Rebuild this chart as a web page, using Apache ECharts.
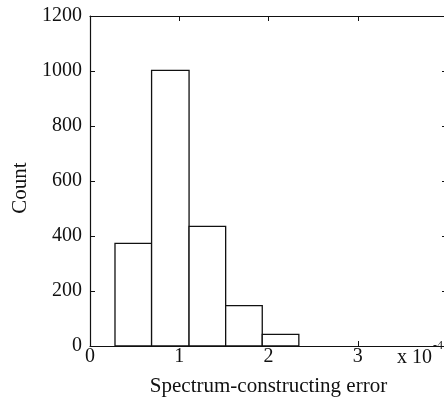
<!DOCTYPE html>
<html>
<head>
<meta charset="utf-8">
<script src="https://cdn.jsdelivr.net/npm/echarts@6/dist/echarts.min.js"></script>
<style>html,body{margin:0;padding:0;background:#fff;}#c{width:444px;height:400px;}</style>
</head>
<body>
<div id="c"></div>
<script>
// Histogram bins (units of 1e-4)
const binStarts = [0.28, 0.69, 1.11, 1.52, 1.93];
const binEnds   = [0.69, 1.11, 1.52, 1.93, 2.34];
const counts    = [373, 1002, 435, 147, 42];
const xTicks = [0, 1, 2, 3];
const yTicks = [0, 200, 400, 600, 800, 1000, 1200];
const xName = 'Spectrum-constructing error';
const yName = 'Count';

const FONT = 'Liberation Serif';
const data = binStarts.map((s, i) => [s, binEnds[i], counts[i]]);

const chart = echarts.init(document.getElementById('c'), null, {renderer: 'canvas'});
const axisLine = {show: true, onZero: false, lineStyle: {color: '#111', width: 1.2}};
const tick = {show: true, inside: true, length: 5, lineStyle: {color: '#111'}};
chart.setOption({
  animation: false,
  backgroundColor: '#fff',
  grid: {left: 90, top: 16, width: 357, height: 330, containLabel: false, outerBoundsMode: 'none'},
  xAxis: [{
    type: 'value', min: 0, max: 4, interval: 1, position: 'bottom',
    name: xName, nameLocation: 'middle', nameGap: 30,
    nameTextStyle: {fontFamily: FONT, fontSize: 21, color: '#111'},
    axisLine: axisLine, axisTick: tick,
    axisLabel: {fontFamily: FONT, fontSize: 20, color: '#111', margin: 1,
      formatter: v => (xTicks.indexOf(v) >= 0 ? String(v) : '')},
    splitLine: {show: false}
  }, {
    type: 'value', min: 0, max: 4, interval: 1, position: 'top',
    axisLine: axisLine, axisTick: tick,
    axisLabel: {show: false}, splitLine: {show: false}
  }],
  yAxis: [{
    type: 'value', min: 0, max: 1200, interval: 200, position: 'left',
    name: yName, nameLocation: 'middle', nameGap: 57,
    nameTextStyle: {fontFamily: FONT, fontSize: 21, color: '#111', padding: [0, 14, 0, 0]},
    axisLine: axisLine, axisTick: tick,
    axisLabel: {fontFamily: FONT, fontSize: 20, color: '#111', margin: 8,
      formatter: v => (yTicks.indexOf(v) >= 0 ? String(v) : '')},
    splitLine: {show: false}
  }, {
    type: 'value', min: 0, max: 1200, interval: 200, position: 'right',
    axisLine: axisLine, axisTick: tick,
    axisLabel: {show: false}, splitLine: {show: false}
  }],
  graphic: [
    {type: 'text', left: 397, top: 348, style: {text: 'x 10', font: '20px "Liberation Serif"', fill: '#111'}},
    {type: 'text', left: 433, top: 340, style: {text: '-4', font: '12px "Liberation Serif"', fill: '#111'}}
  ],
  series: [{
    type: 'custom',
    xAxisIndex: 0, yAxisIndex: 0,
    data: data,
    encode: {x: [0, 1], y: 2},
    renderItem: function (params, api) {
      const p0 = api.coord([api.value(0), api.value(2)]);
      const p1 = api.coord([api.value(1), 0]);
      return {
        type: 'rect',
        shape: {x: p0[0], y: p0[1], width: p1[0] - p0[0], height: p1[1] - p0[1]},
        style: {fill: '#fff', stroke: '#111', lineWidth: 1.3}
      };
    }
  }]
});
</script>
</body>
</html>
